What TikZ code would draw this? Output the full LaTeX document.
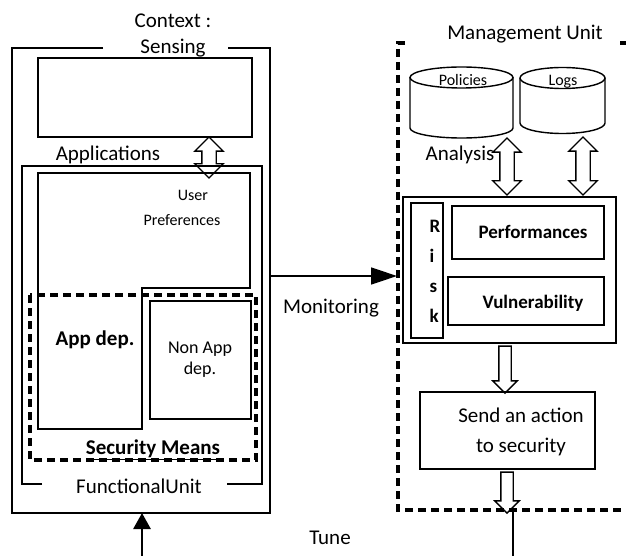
\documentclass[tikz,border=0pt]{standalone}
\usepackage{fontspec}
\setmainfont{Carlito}
\usepackage{tikz}
\usetikzlibrary{arrows.meta,shapes.arrows}

\tikzset{
	big/.style={font=\fontsize{21}{26}\selectfont},
	mid/.style={font=\fontsize{18}{21}\selectfont},
	small/.style={font=\fontsize{16}{25}\selectfont},
	thickdash/.style={line width=3.2pt, dash pattern=on 8pt off 5pt},
	hollowdbl/.style={double arrow, draw, line width=1.4pt, rotate=90, inner sep=6.5pt, double arrow head extend=7pt},
	hollowdown/.style={single arrow, draw, line width=1.4pt, rotate=-90, inner sep=5.5pt, single arrow head extend=6pt}
}

\begin{document}
\begin{tikzpicture}[x=1pt, y=-1pt, line width=1.4pt]
	\clip (0,0) rectangle (626,556);
	
	% Context frame and sensing box
	\draw (103,48) -| (12,513) -| (270,48) -- (228,48);
	\node[big, align=center] (ctx) at (173,35) {Context :\\Sensing};
	\draw (38,58) rectangle (252,137);
	\node[hollowdbl, minimum height=41pt] (sa) at (209,157.5) {};
	
	% Functional unit
	\node[big] (apps) at (108,155) {Applications};
	\draw (42,484) -| (22,166) -| (262,484) -- (227,484);
	\node[big] (fu) at (139,486) {FunctionalUnit};
	
	% user preferences
	\draw (38,173) -- (250,173) -- (250,288) -- (142,288) -- (142,429) -- (38,429) -- cycle;
	\node[small] (u1) at (193,195) {User};
	\node[small] (u2) at (182,220) {Preferences};
	\node[big] (ad) at (95,340) {\bfseries App dep.};
	\draw (150,301) rectangle (251,419);
	\node[mid, align=center] (nad) at (200,360) {Non App\\dep.};
	
	% security means
	\draw[thickdash] (30,295) rectangle (256,460);
	\node[big] (sm) at (153,450) {\bfseries\underline{Security Means}};
	
	% management unit
	\draw[thickdash] (405,43) -- (398,43) -- (398,510) -- (640,510);
	\draw[thickdash] (620,43) -- (640,43);
	\node[big] (mu) at (525,34) {Management Unit};
	
	% databases
	\draw (461.5,77.5) ellipse[x radius=51.5pt, y radius=10.5pt];
	\draw (410,77.5) -- (410,128) arc[start angle=180, end angle=360, x radius=51.5pt, y radius=10pt] -- (513,77.5);
	\node[small] (pol) at (463,80) {Policies};
	\draw (562.5,78) ellipse[x radius=42.5pt, y radius=10.5pt];
	\draw (520,78) -- (520,123) arc[start angle=180, end angle=360, x radius=42.5pt, y radius=10.5pt] -- (605,78);
	\node[small] (logs) at (563,82) {Logs};
	
	\node[big] (an) at (460,155) {Analysis};
	\node[hollowdbl, minimum height=57pt] (pa) at (507,166.5) {};
	\node[hollowdbl, minimum height=58pt] (la) at (583,166) {};
	
	% analysis block
	\draw (403,197) rectangle (616,343);
	\draw (411,203) rectangle (443,338);
	\node[mid, font=\fontsize{19}{30}\selectfont\bfseries, align=left, anchor=north west, inner sep=0] (risk) at (429,219) {R\\i\\s\\k};
	\draw (452,206) rectangle (604,259);
	\node[mid, font=\fontsize{19}{21}\selectfont\bfseries] (perf) at (533,232) {Performances};
	\draw (448,277) rectangle (604,325);
	\node[mid, font=\fontsize{19}{21}\selectfont\bfseries] (vul) at (533,303) {Vulnerability};
	
	\node[hollowdown, minimum height=47pt] (d1) at (505,366.5) {};
	\draw (420,392) rectangle (595,469);
	\node[big, align=center, font=\fontsize{21}{30}\selectfont] (act) at (521,432) {Send an action\\to security};
	\node[hollowdown, minimum height=41pt] (d2) at (507,489.5) {};
	
	% monitoring and tune
	\coordinate (mon-a) at (270,276);
	\coordinate (mon-b) at (397,276);
	\draw[-{Triangle[length=26pt,width=17pt]}] (mon-a) -- (mon-b);
	\node[big] (mon) at (331,308) {Monitoring};
	
	\coordinate (tune-a) at (513,510);
	\coordinate (tune-b) at (513,560);
	\coordinate (tune-c) at (142,560);
	\coordinate (tune-d) at (142,513);
	\draw[line width=2.8pt] (tune-a) -- (tune-b);
	\draw[line width=2.8pt, -{Triangle[length=16pt,width=17pt]}] (tune-c) -- (tune-d);
	\node[big] (tune) at (330,538) {Tune};
	
\end{tikzpicture}
\end{document}
